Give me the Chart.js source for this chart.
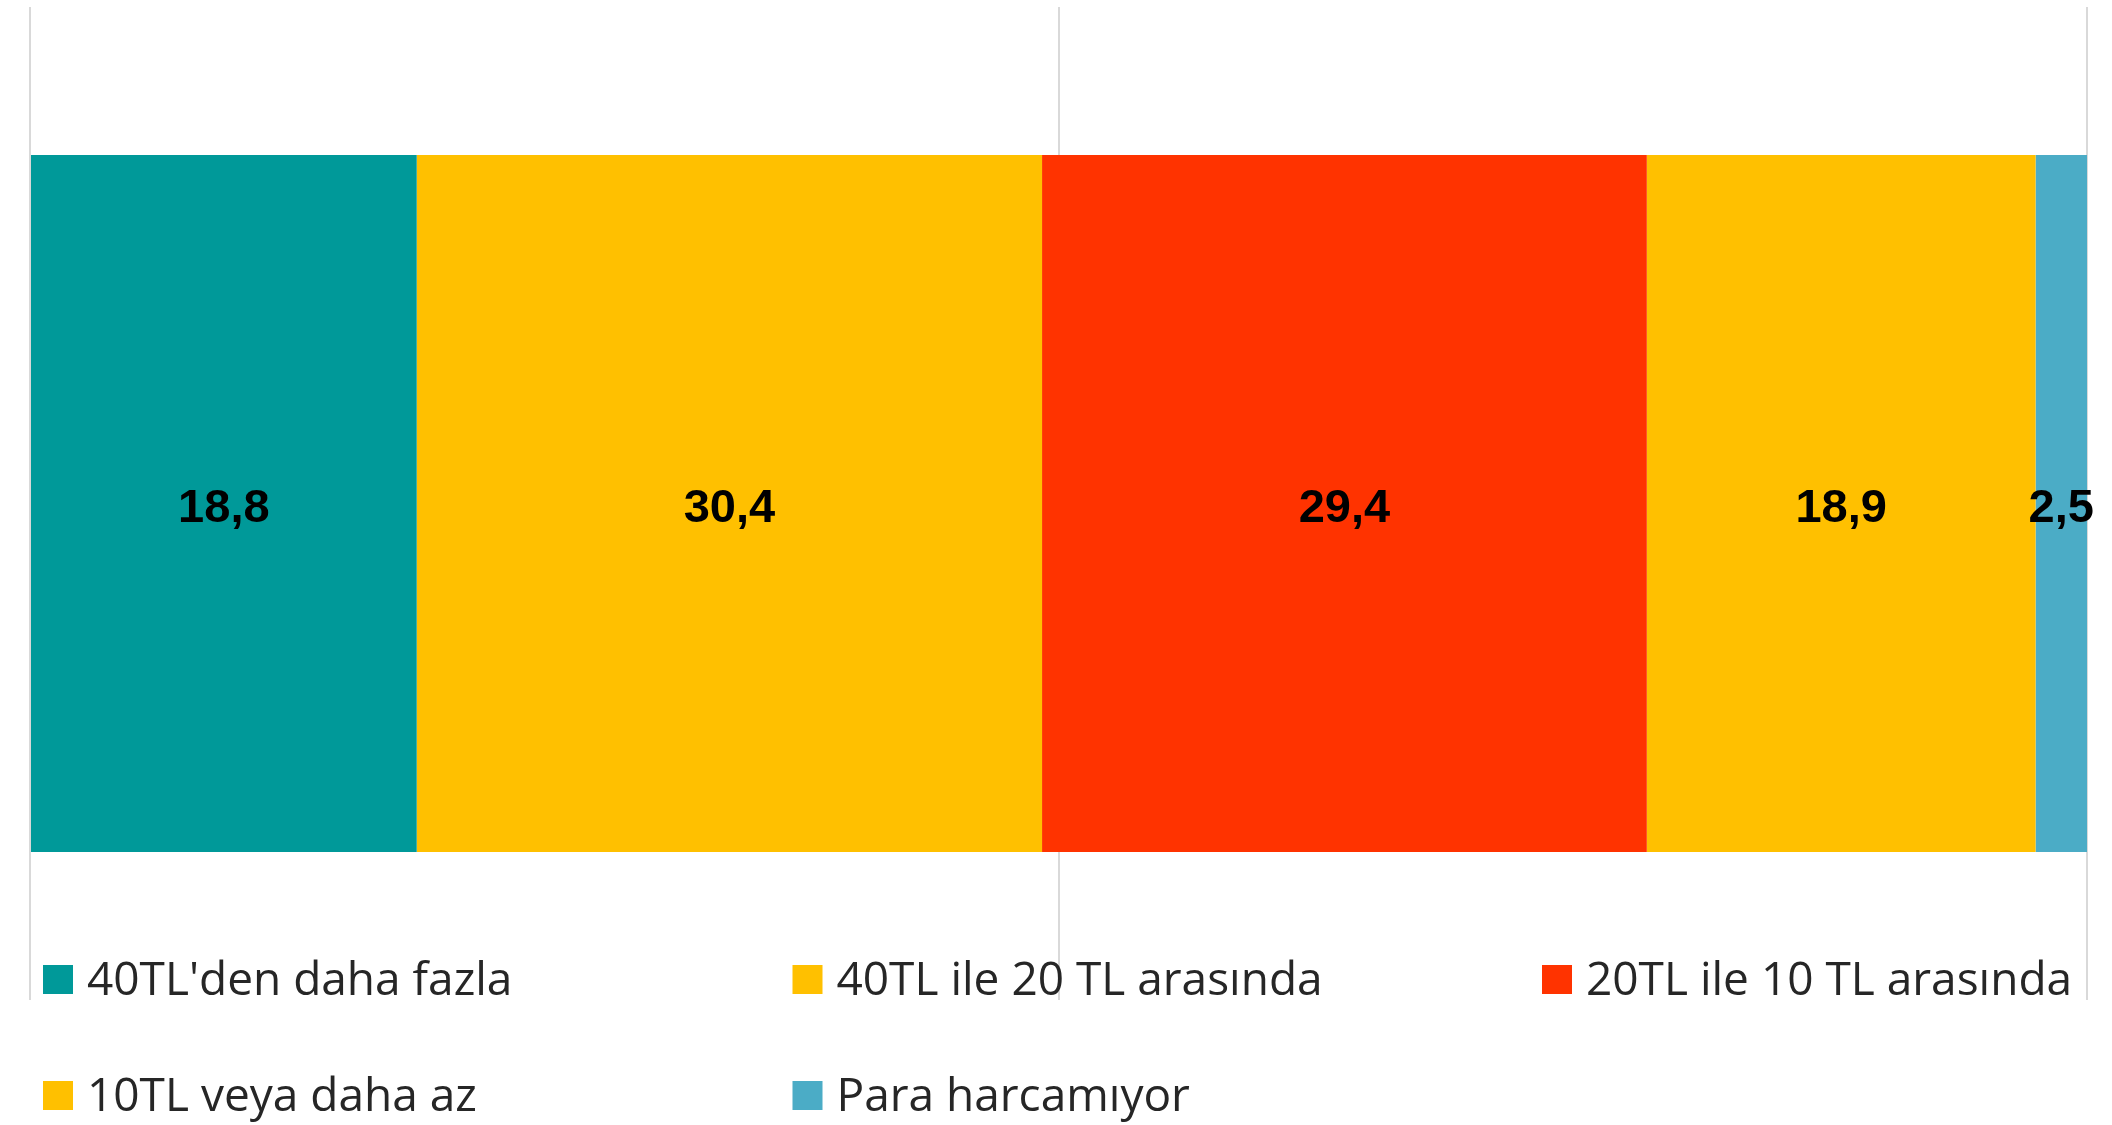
<!DOCTYPE html>
<html>
<head>
<meta charset="utf-8">
<script src="https://cdn.jsdelivr.net/npm/chart.js@4.4.1/dist/chart.umd.min.js"></script>
<style>
  html, body { margin: 0; padding: 0; background: #fff; }
  #wrap { width: 2112px; height: 1125px; position: relative; }
</style>
</head>
<body>
<div id="wrap"><canvas id="chart" width="2112" height="1125"></canvas></div>
<script>
// data
const categories = [''];
const seriesNames = ["40TL'den daha fazla", '40TL ile 20 TL arasında', '20TL ile 10 TL arasında', '10TL veya daha az', 'Para harcamıyor'];
const seriesValues = [[18.8], [30.4], [29.4], [18.9], [2.5]];
const seriesColors = ['#009999', '#FFC000', '#FF3300', '#FFC000', '#4BACC6'];

// value labels in the middle of each segment
const barLabels = {
  id: 'barLabels',
  afterDatasetsDraw(chart) {
    const ctx = chart.ctx;
    ctx.save();
    ctx.font = 'bold 47px "Liberation Sans", Arial, sans-serif';
    ctx.fillStyle = '#000';
    ctx.textAlign = 'center';
    ctx.textBaseline = 'middle';
    chart.data.datasets.forEach((ds, i) => {
      chart.getDatasetMeta(i).data.forEach((bar, j) => {
        const p = bar.getCenterPoint();
        ctx.fillText(ds.data[j].toFixed(1).replace('.', ','), p.x, p.y + 6);
      });
    });
    ctx.restore();
  }
};

// legend laid out in three fixed columns
const gridLegend = {
  id: 'gridLegend',
  afterDraw(chart) {
    const ctx = chart.ctx;
    const colX = 43, colW = 749.5, rowY = [995, 1111];
    ctx.save();
    ctx.font = '46px "Open Sans", sans-serif';
    ctx.textBaseline = 'alphabetic';
    ctx.textAlign = 'left';
    chart.data.datasets.forEach((ds, i) => {
      const x = colX + (i % 3) * colW;
      const y = rowY[Math.floor(i / 3)];
      ctx.fillStyle = ds.backgroundColor;
      ctx.fillRect(x, y - 30, 30, 29);
      ctx.fillStyle = '#262626';
      ctx.fillText(ds.label, x + 44, y);
    });
    ctx.restore();
  }
};

new Chart(document.getElementById('chart'), {
  type: 'bar',
  data: {
    labels: categories,
    datasets: seriesNames.map((name, i) => ({
      label: name,
      data: seriesValues[i],
      backgroundColor: seriesColors[i],
      borderWidth: 0,
      barPercentage: 0.702,
      categoryPercentage: 1
    }))
  },
  options: {
    indexAxis: 'y',
    responsive: false,
    animation: false,
    layout: { padding: { left: 30, right: 25, top: 7, bottom: 125 } },
    plugins: {
      legend: { display: false },
      tooltip: { enabled: false },
      title: { display: false }
    },
    scales: {
      x: {
        stacked: true,
        min: 0,
        max: 100,
        ticks: { display: false, stepSize: 50 },
        grid: { color: '#d9d9d9', lineWidth: 2, drawTicks: false },
        border: { display: false }
      },
      y: {
        stacked: true,
        display: false
      }
    }
  },
  plugins: [barLabels, gridLegend]
});
</script>
</body>
</html>
